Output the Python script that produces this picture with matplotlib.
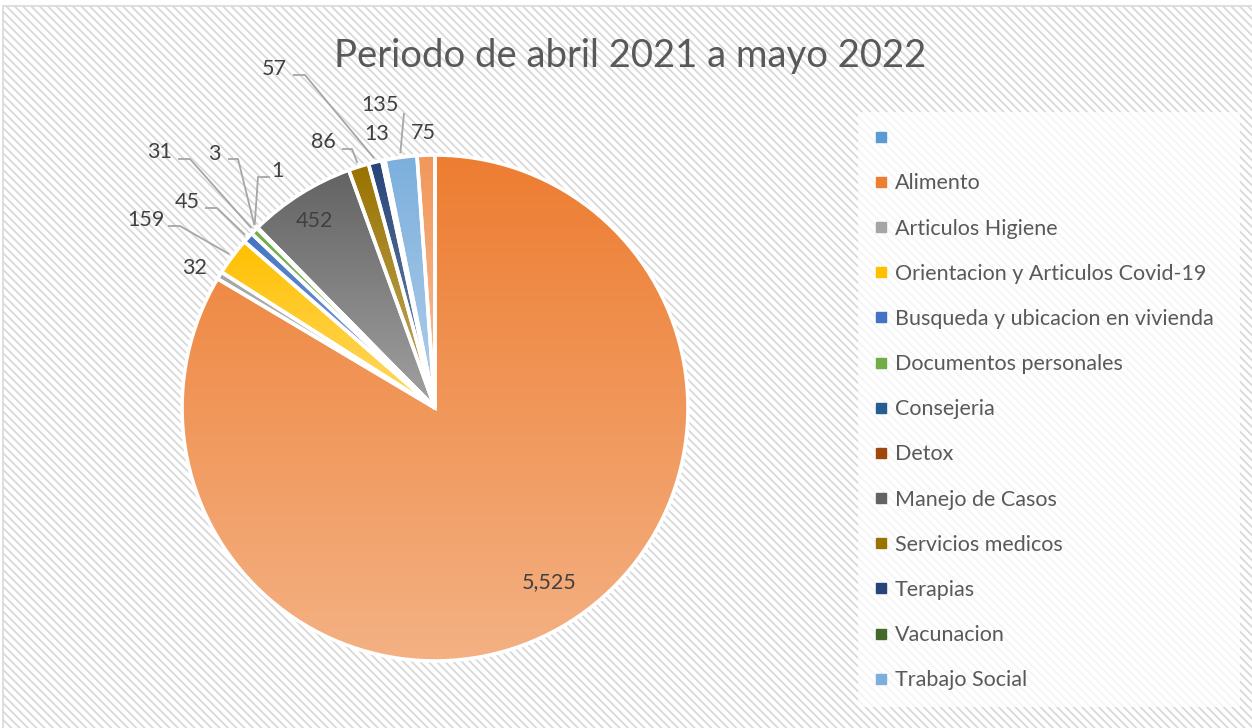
import numpy as np
import matplotlib.pyplot as plt
from matplotlib.patches import Rectangle, Wedge
from matplotlib.lines import Line2D
from matplotlib.colors import to_rgb

# datos del grafico
categorias = ['', 'Alimento', 'Articulos Higiene', 'Orientacion y Articulos Covid-19',
              'Busqueda y ubicacion en vivienda', 'Documentos personales', 'Consejeria',
              'Detox', 'Manejo de Casos', 'Servicios medicos', 'Terapias', 'Vacunacion',
              'Trabajo Social', 'Otros']
valores = [0, 5525, 32, 159, 45, 31, 3, 1, 452, 86, 57, 13, 135, 75]
colores = ['#5B9BD5', '#ED7D31', '#A5A5A5', '#FFC000', '#4472C4', '#70AD47', '#255E91',
           '#9E480E', '#636363', '#997300', '#264478', '#43682B', '#7CAFDD', '#F1975A']
titulo = 'Periodo de abril 2021 a mayo 2022'
n_leyenda = 13  # la leyenda del original esta cortada

W, H = 1252, 728
FUENTE = 'Lato'
GRIS_TXT = '#404040'
GRIS_LEY = '#595959'
GRIS_LINEA = '#A6A6A6'


def px(x, y):
    # pixel de imagen -> coordenadas de datos
    return x, H - y


# posiciones de etiquetas (layout): indice -> (texto x, y, inicio linea, codo)
etiq_dentro = {1: (549, 582), 8: (314, 221)}
etiq_fuera = {
    2: ((195, 268), None, None),
    3: ((146, 220), (168, 226), (180, 226)),
    4: ((187, 202), (205, 208), (217, 208)),
    5: ((160, 152), (178, 159), (190, 159)),
    6: ((214, 154), (228, 159), (238, 159)),
    7: ((277, 171), (270, 177), (258, 177)),
    9: ((323, 142), (342, 149), (352, 149)),
    10: ((274, 69), (293, 75), (305, 75)),
    11: ((377, 134), None, None),
    12: ((380, 105), (404, 113), (404, 113)),
    13: ((423, 133), None, None),
}

fig = plt.figure(figsize=(W / 100, H / 100), dpi=100)
ax = fig.add_axes([0, 0, 1, 1])

# fondo rayado del area del grafico
plt.rcParams['hatch.color'] = '#E6E6E6'
plt.rcParams['hatch.linewidth'] = 1.3
ax.add_patch(Rectangle(px(3, 740), 1300, 734, facecolor='white', edgecolor='#D9D9D9',
                       hatch='\\\\\\\\', linewidth=1.2, zorder=0))

cx, cy = px(435, 408)
R = 253
wedges, _ = ax.pie(valores, colors=colores, startangle=90, counterclock=False,
                   center=(cx, cy), radius=R,
                   wedgeprops=dict(linewidth=0, zorder=1))

for i, w in enumerate(wedges):
    if valores[i] == 0:
        continue
    ext = w.get_path().get_extents()
    base = np.array(to_rgb(colores[i]))
    t = np.linspace(0, 1, 256)[:, None]
    grad = base * (1 - 0.4 * t) + 0.4 * t
    ax.imshow(grad[:, None, :], extent=(ext.x0, ext.x1, ext.y0, ext.y1), origin='upper',
              aspect='auto', interpolation='bilinear', clip_path=w, zorder=2)
    ax.add_patch(Wedge(w.center, w.r, w.theta1, w.theta2, fill=False,
                       edgecolor='white', linewidth=2.6, zorder=3))

# etiquetas de datos
for i, (x, y) in etiq_dentro.items():
    ax.text(*px(x, y), f'{valores[i]:,}', ha='center', va='center', fontsize=15.5,
            family=FUENTE, color=GRIS_TXT, zorder=5)

for i, (pos, ini, codo) in etiq_fuera.items():
    ax.text(*px(*pos), f'{valores[i]:,}', ha='center', va='center', fontsize=15.5,
            family=FUENTE, color=GRIS_TXT, zorder=5)
    if ini is None:
        continue
    ang = np.deg2rad((wedges[i].theta1 + wedges[i].theta2) / 2)
    ex, ey = cx + (R + 4) * np.cos(ang), cy + (R + 4) * np.sin(ang)
    xs = [ini[0], codo[0], ex]
    ys = [H - ini[1], H - codo[1], ey]
    ax.plot(xs, ys, color=GRIS_LINEA, linewidth=1.3, zorder=4, solid_capstyle='butt')

# titulo
ax.text(*px(630, 56), titulo, ha='center', va='center', fontsize=27.5, family=FUENTE,
        color=GRIS_LEY, zorder=5)

# leyenda
handles = [Line2D([], [], marker='s', linestyle='none', markersize=6.5,
                  markerfacecolor=colores[i], markeredgecolor=colores[i])
           for i in range(n_leyenda)]
labels = [c if c else ' ' for c in categorias[:n_leyenda]]
leg = ax.legend(handles, labels, loc='upper left',
                bbox_to_anchor=(858 / W, 1 - 700 / H, 382 / W, 588 / H), mode='expand',
                bbox_transform=fig.transFigure, frameon=True, fancybox=False,
                prop=dict(family=FUENTE, size=15.5), labelcolor=GRIS_LEY,
                labelspacing=1.17, handlelength=0.6, handletextpad=0.35,
                borderpad=0.75, borderaxespad=0)
leg.get_frame().set_facecolor('white')
leg.get_frame().set_alpha(0.75)
leg.get_frame().set_linewidth(0)

ax.set_xlim(0, W)
ax.set_ylim(0, H)
ax.set_aspect('auto')
ax.axis('off')

fig.savefig('out.png', dpi=100, facecolor='white')
